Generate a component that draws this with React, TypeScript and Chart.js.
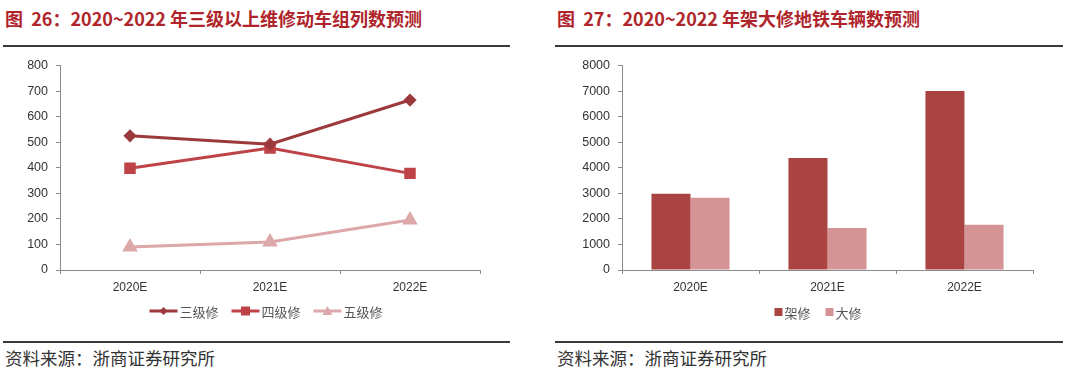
import React, { useEffect, useRef } from "react";
import { Chart, registerables } from "chart.js";

Chart.register(...registerables);

const categories = ["2020E", "2021E", "2022E"];
const level3 = [525, 492, 665];
const level4 = [398, 477, 378];
const level5 = [90, 110, 196];
const lineNames = ["三级修", "四级修", "五级修"];
const barNames = ["架修", "大修"];
const frameRepair = [2980, 4380, 7000];
const overhaul = [2830, 1640, 1770];

const C3 = "#9C393C";
const C4 = "#BE4347";
const C5 = "#DDA8A9";
const B1 = "#A94443";
const B2 = "#D49495";
const X_FONT = { family: "'Liberation Sans', Arial, sans-serif", size: 12 };
const Y_FONT = { family: "'Liberation Sans', Arial, sans-serif", size: 12.5 };
const AXIS = "#8a8a8a";

const legendPlugin = {
  id: "customLegend",
  afterDraw(chart: any, _args: any, opts: any) {
    if (!opts || !opts.display) return;
    const ctx = chart.ctx;
    const ds = chart.data.datasets;
    ctx.save();
    ctx.font = "13px 'Noto Sans CJK SC', sans-serif";
    ctx.textBaseline = "middle";
    const sampleW = opts.kind === "line" ? 28 : 8;
    const gap = opts.gap;
    const widths = ds.map((d: any) => sampleW + 2 + ctx.measureText(d.label).width);
    const total = widths.reduce((a: number, b: number) => a + b, 0) + gap * (ds.length - 1);
    let x = opts.centerX - total / 2;
    const y = opts.y;
    ds.forEach((d: any, i: number) => {
      const col = d.borderColor || d.backgroundColor;
      if (opts.kind === "line") {
        ctx.strokeStyle = col;
        ctx.lineWidth = 3;
        ctx.beginPath();
        ctx.moveTo(x, y);
        ctx.lineTo(x + sampleW, y);
        ctx.stroke();
        ctx.fillStyle = d.pointBackgroundColor || col;
        const cx = x + sampleW / 2;
        const st = d.pointStyle;
        ctx.beginPath();
        if (st === "rectRot") {
          ctx.moveTo(cx, y - 4);
          ctx.lineTo(cx + 4, y);
          ctx.lineTo(cx, y + 4);
          ctx.lineTo(cx - 4, y);
        } else if (st === "rect") {
          ctx.rect(cx - 4.5, y - 4.5, 9, 9);
        } else {
          ctx.moveTo(cx, y - 5);
          ctx.lineTo(cx + 5, y + 4);
          ctx.lineTo(cx - 5, y + 4);
        }
        ctx.closePath();
        ctx.fill();
      } else {
        ctx.fillStyle = d.backgroundColor;
        ctx.fillRect(x, y - 4, 8, 8);
      }
      ctx.fillStyle = "#555";
      ctx.textAlign = "left";
      ctx.fillText(d.label, x + sampleW + 2, y + 1);
      x += widths[i] + gap;
    });
    ctx.restore();
  },
};

function LineChart() {
  const ref = useRef<HTMLCanvasElement>(null);
  useEffect(() => {
    const chart = new Chart(ref.current!, {
      type: "line",
      data: {
        labels: categories,
        datasets: [
          { label: lineNames[0], data: level3, borderColor: C3, backgroundColor: C3, pointBackgroundColor: C3, pointBorderColor: C3, borderWidth: 3, pointStyle: "rectRot", pointRadius: 4.5 },
          { label: lineNames[1], data: level4, borderColor: C4, backgroundColor: C4, pointBackgroundColor: C4, pointBorderColor: C4, borderWidth: 3, pointStyle: "rect", pointRadius: 6 },
          { label: lineNames[2], data: level5, borderColor: C5, backgroundColor: C5, pointBackgroundColor: C5, pointBorderColor: C5, borderWidth: 3, pointStyle: "triangle", pointRadius: 6 },
        ],
      },
      options: {
        animation: false,
        responsive: false,
        layout: { padding: { top: 13, right: 60, left: 0, bottom: 0 } },
        plugins: {
          legend: { display: false },
          tooltip: { enabled: false },
          customLegend: { display: true, kind: "line", centerX: 266, y: 261, gap: 13 },
        } as any,
        scales: {
          x: {
            offset: true,
            grid: { offset: true, drawOnChartArea: false, tickLength: 4, color: AXIS },
            border: { color: AXIS, width: 1 },
            ticks: { color: "#333", font: X_FONT, padding: 6 },
            afterFit: (s: any) => { s.height = 60; },
          },
          y: {
            min: 0,
            max: 800,
            ticks: { stepSize: 100, color: "#333", font: Y_FONT, padding: 8 },
            grid: { drawOnChartArea: false, tickLength: 4, color: AXIS },
            border: { color: AXIS, width: 1 },
            afterFit: (s: any) => { s.width = 60; },
          },
        },
      },
      plugins: [legendPlugin],
    });
    return () => chart.destroy();
  }, []);
  return <canvas ref={ref} width={540} height={280} style={{ position: "absolute", left: 0, top: 50, width: 540, height: 280 }} />;
}

function BarChart() {
  const ref = useRef<HTMLCanvasElement>(null);
  useEffect(() => {
    const chart = new Chart(ref.current!, {
      type: "bar",
      data: {
        labels: categories,
        datasets: [
          { label: barNames[0], data: frameRepair, backgroundColor: B1, borderWidth: 0 },
          { label: barNames[1], data: overhaul, backgroundColor: B2, borderWidth: 0 },
        ],
      },
      options: {
        animation: false,
        responsive: false,
        layout: { padding: { top: 13, right: 47, left: 0, bottom: 0 } },
        datasets: { bar: { categoryPercentage: 0.57, barPercentage: 1 } },
        plugins: {
          legend: { display: false },
          tooltip: { enabled: false },
          customLegend: { display: true, kind: "box", centerX: 278, y: 262, gap: 15 },
        } as any,
        scales: {
          x: {
            grid: { offset: true, drawOnChartArea: false, tickLength: 4, color: AXIS },
            border: { color: AXIS, width: 1 },
            ticks: { color: "#333", font: X_FONT, padding: 6 },
            afterFit: (s: any) => { s.height = 60; },
          },
          y: {
            min: 0,
            max: 8000,
            ticks: { stepSize: 1000, color: "#333", font: Y_FONT, padding: 8, callback: (v: any) => String(v) },
            grid: { drawOnChartArea: false, tickLength: 4, color: AXIS },
            border: { color: AXIS, width: 1 },
            afterFit: (s: any) => { s.width = 82; },
          },
        },
      },
      plugins: [legendPlugin],
    });
    return () => chart.destroy();
  }, []);
  return <canvas ref={ref} width={540} height={280} style={{ position: "absolute", left: 540, top: 50, width: 540, height: 280 }} />;
}

const titleStyle: React.CSSProperties = {
  position: "absolute",
  top: 6,
  fontFamily: "'Noto Sans CJK SC', sans-serif",
  fontWeight: 700,
  fontSize: 18,
  lineHeight: "24px",
  color: "#B0252B",
  whiteSpace: "nowrap",
};
const sourceStyle: React.CSSProperties = {
  position: "absolute",
  top: 346,
  fontFamily: "'Noto Sans CJK SC', sans-serif",
  fontSize: 17.5,
  lineHeight: "24px",
  color: "#333",
  whiteSpace: "nowrap",
};
const rule = (left: number, top: number, width: number, h: number): React.CSSProperties => ({
  position: "absolute",
  left,
  top,
  width,
  height: h,
  background: "#3a3a3a",
});

export default function App() {
  return (
    <div style={{ position: "fixed", left: 0, top: 0, width: 1080, height: 378, background: "#fff", overflow: "hidden" }}>
      <div style={{ ...titleStyle, left: 5 }}>图&nbsp;&nbsp;26：2020~2022&nbsp;年三级以上维修动车组列数预测</div>
      <div style={{ ...titleStyle, left: 557 }}>图&nbsp;&nbsp;27：2020~2022&nbsp;年架大修地铁车辆数预测</div>
      <div style={rule(3, 45, 507, 2)} />
      <div style={rule(555, 45, 508, 2)} />
      <LineChart />
      <BarChart />
      <div style={rule(3, 341, 507, 2)} />
      <div style={rule(555, 341, 508, 2)} />
      <div style={{ ...sourceStyle, left: 5 }}>资料来源：浙商证券研究所</div>
      <div style={{ ...sourceStyle, left: 557 }}>资料来源：浙商证券研究所</div>
    </div>
  );
}
